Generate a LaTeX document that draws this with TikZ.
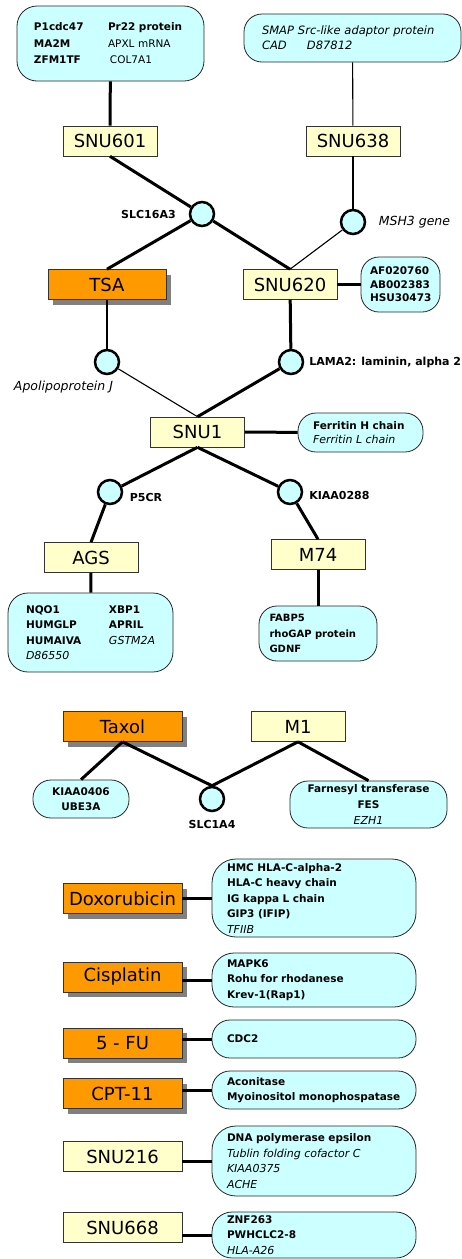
\documentclass[tikz,border=0pt]{standalone}
\usepackage{fontspec}
\setmainfont{DejaVu Sans}
\usetikzlibrary{positioning,shadows}
\definecolor{naranja}{HTML}{FF9900}
\definecolor{crema}{HTML}{FFFFCC}
\definecolor{celeste}{HTML}{CCFFFF}
\definecolor{borde}{HTML}{333333}
\newcommand{\gi}[1]{{\mdseries\itshape\fontsize{11}{15.5}\selectfont #1}}
\newcommand{\gn}[1]{{\mdseries #1}}

\begin{document}
\begin{tikzpicture}[x=1pt,y=-1pt,
      celda/.style={draw=borde,fill=crema,line width=0.6pt,minimum width=94pt,minimum height=30pt,
                    inner sep=0pt,font=\fontsize{18}{20}\selectfont},
      droga/.style={celda,fill=naranja,minimum width=119pt,
                    drop shadow={shadow xshift=5pt,shadow yshift=-5pt,opacity=1,fill=black!50}},
      gen/.style={draw=black!85,fill=celeste,line width=0.8pt,rounded corners=18pt,inner ysep=0pt,
                  inner xsep=15pt,align=left,font=\bfseries\fontsize{10.5}{15.5}\selectfont},
      bola/.style={circle,draw=black,fill=celeste,line width=2.5pt,minimum size=24pt,inner sep=0pt},
      etq/.style={font=\bfseries\fontsize{11}{13}\selectfont},
      etqi/.style={font=\itshape\fontsize{12.5}{14}\selectfont},
      gr/.style={line width=3pt},
      fn/.style={line width=1.1pt}]
    \useasboundingbox (0,0) rectangle (462,1259);
    % cell lines and drugs
    \node[celda] (snu601) at (110,141) {SNU601};
    \node[celda] (snu638) at (353,141) {SNU638};
    \node[droga,minimum width=118pt] (tsa) at (107,284.5) {TSA};
    \node[celda] (snu620) at (290,284.5) {SNU620};
    \node[celda] (snu1) at (197.5,432) {SNU1};
    \node[celda] (ags) at (91,557.5) {AGS};
    \node[celda] (m74) at (318,554.5) {M74};
    \node[droga] (taxol) at (122.5,726.5) {Taxol};
    \node[celda] (m1) at (298,726.5) {M1};
    \node[droga] (dox) at (122.5,898.5) {Doxorubicin};
    \node[droga] (cis) at (122.5,977) {Cisplatin};
    \node[droga] (fu) at (122.5,1043) {5 - FU};
    \node[droga] (cpt) at (122.5,1093.5) {CPT-11};
    \node[celda,minimum width=119pt] (snu216) at (122.5,1156.5) {SNU216};
    \node[celda,minimum width=119pt] (snu668) at (122.5,1227.5) {SNU668};
    % shared genes
    \node[bola,label={[etq,label distance=9.5pt]left:SLC16A3}] (slc16a3) at (202,214) {};
    \node[bola,label={[etqi,label distance=9pt]right:MSH3 gene}] (msh3) at (353,222) {};
    \node[bola,label={[etqi,anchor=north,xshift=-43.5pt,label distance=2pt]below:Apolipoprotein J}] (apoj) at (107,362) {};
    \node[bola,label={[etq,label distance=1.5pt]right:LAMA2: laminin, alpha 2}] (lama2) at (291,362) {};
    \node[bola,label={[etq,label distance=3pt,yshift=-5pt]right:P5CR}] (p5cr) at (110,492) {};
    \node[bola,label={[etq,label distance=2.5pt,yshift=-3pt]right:KIAA0288}] (kiaa0288) at (290,492) {};
    \node[bola,label={[etq,label distance=5pt]below:SLC1A4}] (slc1a4) at (212,799) {};
    % gene lists
    \node[gen,text width=153pt,minimum height=75pt,inner xsep=17pt,rounded corners=20pt,font=\bfseries\fontsize{10.5}{16.5}\selectfont] (gP1) at (110.5,43.5)
      {\makebox[74pt][l]{P1cdc47}Pr22 protein\\\makebox[74pt][l]{MA2M}\gn{APXL mRNA}\\\makebox[76pt][l]{ZFM1TF}\gn{COL7A1}};
    \node[gen,text width=181pt,minimum height=48pt,inner xsep=18pt,font=\itshape\fontsize{11.5}{15}\selectfont] (gSMAP) at (352.5,38)
      {\makebox[36pt][l]{SMAP}Src-like adaptor protein\\\makebox[45pt][l]{CAD}D87812};
    \node[gen,text width=61pt,minimum height=55pt,inner xsep=9pt,font=\bfseries\fontsize{10.5}{13.5}\selectfont] (gAF) at (400.5,284.5)
      {AF020760\\AB002383\\HSU30473};
    \node[gen,text width=95pt,minimum height=39pt,font=\bfseries\fontsize{10.5}{14}\selectfont] (gFer) at (360.5,432.5)
      {Ferritin H chain\\\gi{Ferritin L chain}};
    \node[gen,text width=129pt,minimum height=79pt,inner xsep=18pt,rounded corners=20pt] (gAGS) at (90.5,632.5)
      {\makebox[83pt][l]{NQO1}XBP1\\\makebox[83pt][l]{HUMGLP}APRIL\\\makebox[83pt][l]{HUMAIVA}\gi{GSTM2A}\\\gi{D86550}};
    \node[gen,text width=97pt,minimum height=55pt,inner xsep=10.5pt,font=\bfseries\fontsize{10}{15.5}\selectfont] (gM74) at (318,633.5)
      {FABP5\\rhoGAP protein\\GDNF};
    \node[gen,text width=70pt,minimum height=38pt,inner xsep=13pt,align=center] (gKIAA) at (81,799)
      {KIAA0406\\UBE3A};
    \node[gen,text width=135pt,minimum height=47pt,inner xsep=11pt,align=center,font=\bfseries\fontsize{10.5}{16}\selectfont] (gFar) at (368.5,804.5)
      {Farnesyl transferase\\FES\\\gi{EZH1}};
    \node[gen,text width=174pt,minimum height=78pt,rounded corners=24pt] (gDox) at (314,898)
      {HMC HLA-C-alpha-2\\HLA-C heavy chain\\IG kappa L chain\\GIP3 (IFIP)\\\gi{TFIIB}};
    \node[gen,text width=174pt,minimum height=54pt,rounded corners=22pt] (gCis) at (314,980)
      {MAPK6\\Rohu for rhodanese\\Krev-1(Rap1)};
    \node[gen,text width=174pt,minimum height=38pt] (gFU) at (314,1039) {CDC2};
    \node[gen,text width=174pt,minimum height=38pt] (gCPT) at (314,1090)
      {Aconitase\\Myoinositol monophospatase};
    \node[gen,text width=174pt,minimum height=70pt,rounded corners=24pt] (g216) at (314,1161)
      {DNA polymerase epsilon\\\gi{Tublin folding cofactor C}\\\gi{KIAA0375}\\\gi{ACHE}};
    \node[gen,text width=174pt,minimum height=46pt,rounded corners=20pt] (g668) at (314,1235)
      {ZNF263\\PWHCLC2-8\\\gi{HLA-A26}};
    % links
    \draw[gr] (gP1) -- (snu601);
    \draw[fn] (gSMAP) -- (snu638);
    \draw[gr] (snu601.south) -- (slc16a3);
    \draw[gr] (slc16a3) -- (tsa.north);
    \draw[gr] (slc16a3) -- (snu620.north);
    \draw[fn] (snu638) -- (msh3);
    \draw[fn] (msh3) -- (snu620.north);
    \draw[gr] (snu620) -- (gAF);
    \draw[fn] (tsa) -- (apoj);
    \draw[gr] (snu620) -- (lama2);
    \draw[fn] (apoj) -- (snu1.north);
    \draw[gr] (lama2) -- (snu1.north);
    \draw[gr] (snu1) -- (gFer);
    \draw[gr] (snu1.south) -- (p5cr);
    \draw[gr] (snu1.south) -- (kiaa0288);
    \draw[gr] (p5cr) -- (ags.north);
    \draw[gr] (kiaa0288) -- (m74.north);
    \draw[gr] (ags) -- (gAGS);
    \draw[gr] (m74) -- (gM74);
    \draw[gr] (taxol.south) -- (gKIAA.north);
    \draw[gr] (taxol.south) -- (slc1a4.north);
    \draw[gr] (m1.south) -- (slc1a4.north);
    \draw[gr] (m1.south) -- (gFar.north);
    \draw[gr] (dox.east |- gDox.west) -- (gDox.west);
    \draw[gr] (cis.east |- gCis.west) -- (gCis.west);
    \draw[gr] (fu.east |- gFU.west) -- (gFU.west);
    \draw[gr] (cpt.east |- gCPT.west) -- (gCPT.west);
    \draw[gr] (snu216.east |- g216.west) -- (g216.west);
    \draw[gr] (snu668.east |- g668.west) -- (g668.west);
  \end{tikzpicture}
\end{document}
